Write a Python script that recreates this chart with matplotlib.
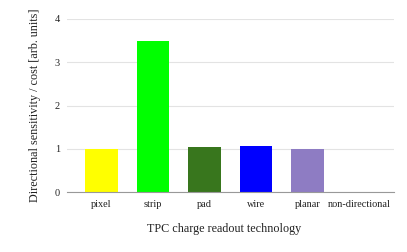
import matplotlib.pyplot as plt

categories = ['pixel', 'strip', 'pad', 'wire', 'planar', 'non-directional']
values = [1.0, 3.49, 1.05, 1.055, 1.0, 0.0]
colors = ['#ffff00', '#00ff00', '#38761d', '#0000ff', '#8e7cc3', '#cccccc']
yticks = [0, 1, 2, 3, 4]

plt.rcParams['font.family'] = ['Liberation Serif', 'DejaVu Serif']

fig = plt.figure(figsize=(4.07, 2.52), dpi=100)
ax = fig.add_axes([67 / 407, 1 - 192 / 252, 327 / 407, 173 / 252])

x = range(len(categories))
ax.bar(x, values, width=0.64, color=colors, zorder=3)

ax.set_xlim(-0.67, 5.68)
ax.set_ylim(0, 4)
ax.set_yticks(yticks)
ax.set_xticks(list(x))
ax.set_xticklabels(categories)
ax.grid(axis='y', color='#e3e3e3', linewidth=0.8, zorder=0)
ax.tick_params(axis='both', length=0, labelsize=7.4, colors='#222222')
ax.tick_params(axis='x', pad=6)
ax.tick_params(axis='y', pad=5)
for s in ['top', 'right', 'left']:
    ax.spines[s].set_visible(False)
ax.spines['bottom'].set_color('#999999')
ax.spines['bottom'].set_linewidth(0.8)
ax.spines['bottom'].set_zorder(4)

ax.set_xlabel('TPC charge readout technology', fontsize=8.7, color='#222222', va='center')
ax.set_ylabel('Directional sensitivity / cost [arb. units]', fontsize=8.7, color='#222222', va='center')
ax.xaxis.set_label_coords(0.482, -0.214)
ax.yaxis.set_label_coords(-0.098, 0.5)

fig.savefig('out.png', dpi=100)
